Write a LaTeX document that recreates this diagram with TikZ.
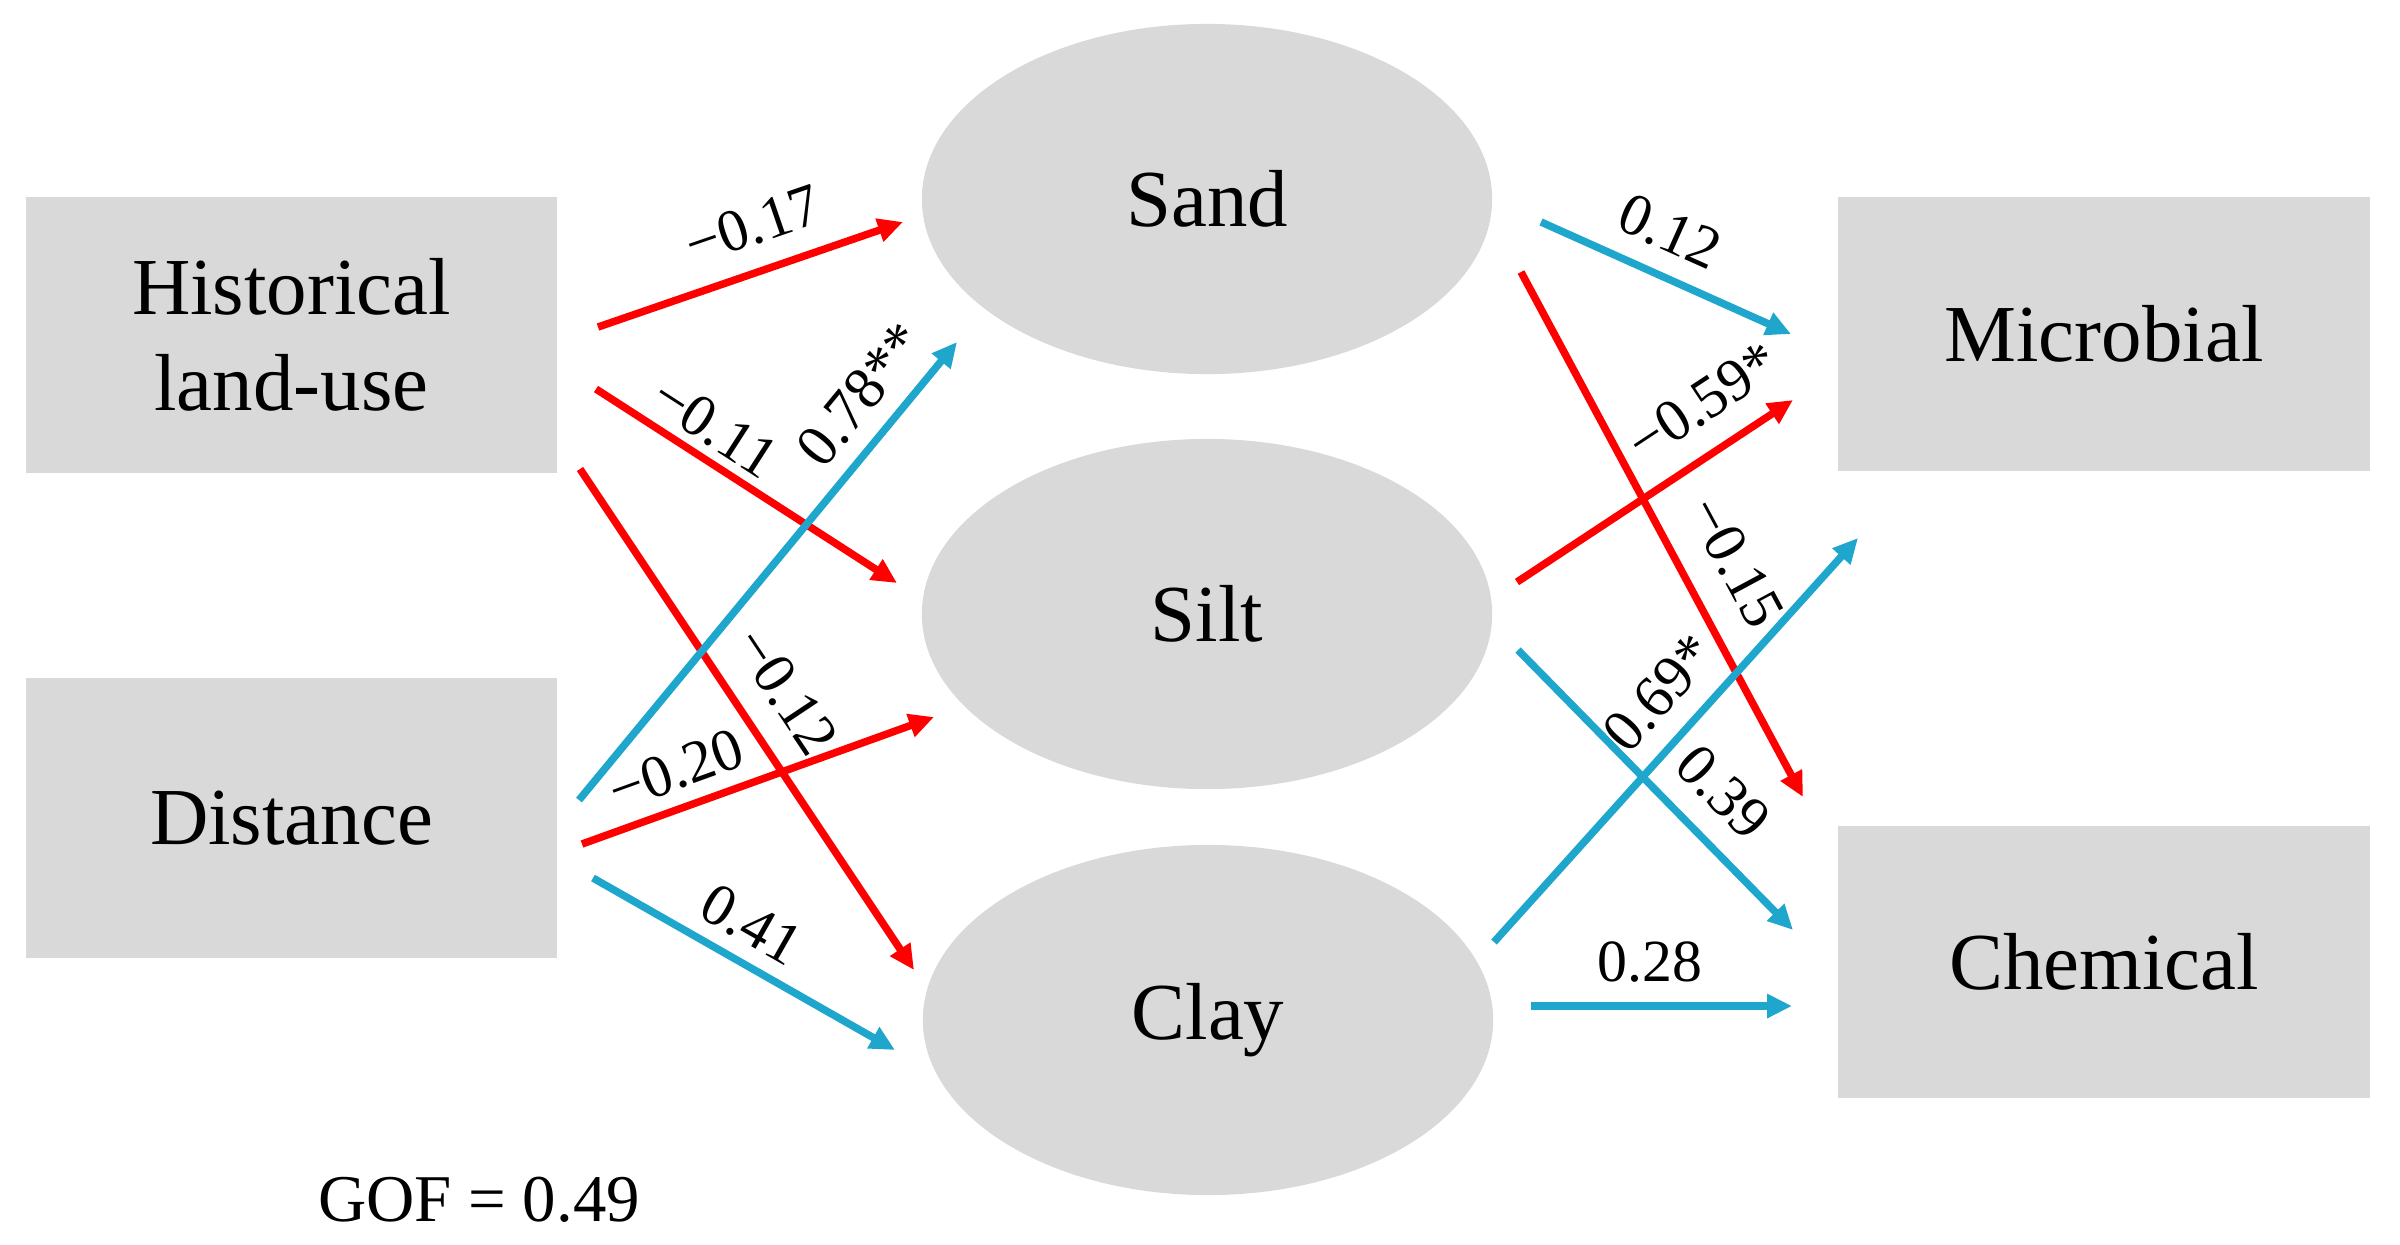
\documentclass[tikz,border=0pt]{standalone}
\usepackage{fontspec}
\setmainfont{Liberation Serif}
\usetikzlibrary{arrows.meta,shapes.geometric}
\definecolor{pgrey}{HTML}{D9D9D9}
\definecolor{pred}{HTML}{FF0000}
\definecolor{pblue}{HTML}{1FA6CC}
\begin{document}
\begin{tikzpicture}[x=0.01cm,y=-0.01cm,
  box/.style={rectangle, fill=pgrey, minimum width=5.3cm, minimum height=2.76cm, inner sep=0pt, align=center, font=\fontsize{23}{27.3}\selectfont},
  oval/.style={ellipse, fill=pgrey, minimum width=5.7cm, minimum height=3.5cm, inner sep=0pt, font=\fontsize{23}{27.3}\selectfont},
  conn/.style={line width=0.075cm, -{Triangle[length=0.25cm,width=0.23cm]}},
  nlink/.style={conn, draw=pred},
  plink/.style={conn, draw=pblue},
  lab/.style={font=\fontsize{17}{20}\selectfont, inner sep=0pt, sloped}
]
\useasboundingbox (0,0) rectangle (2400,1244);

% nodes
\node[box] (hist) at (291.5,335) {Historical\\land-use};
\node[box, minimum height=2.8cm] (dist) at (291.5,818) {Distance};
\node[box, minimum width=5.32cm, minimum height=2.74cm] (micro) at (2104,334) {Microbial};
\node[box, minimum width=5.32cm, minimum height=2.72cm] (chem) at (2104,962) {Chemical};
\node[oval] (sand) at (1207,199) {Sand};
\node[oval] (silt) at (1207,614) {Silt};
\node[oval] (clay) at (1208,1020) {Clay};
\node[font=\fontsize{19}{22}\selectfont, inner sep=0pt] (gof) at (479,1200) {GOF = 0.49};

% connector end points
\coordinate (hsA) at (598,327);   \coordinate (hsB) at (903,222);
\coordinate (hiA) at (596,389);   \coordinate (hiB) at (897,583);
\coordinate (hcA) at (580,469);   \coordinate (hcB) at (914,970);
\coordinate (dsA) at (579,800);   \coordinate (dsB) at (957,342);
\coordinate (diA) at (582,844);   \coordinate (diB) at (934,717);
\coordinate (dcA) at (593,878);   \coordinate (dcB) at (895,1050);
\coordinate (smA) at (1541,222);  \coordinate (smB) at (1791,334);
\coordinate (imA) at (1517,582);  \coordinate (imB) at (1793,400);
\coordinate (scA) at (1521,272);  \coordinate (scB) at (1803,797);
\coordinate (cmA) at (1494,942);  \coordinate (cmB) at (1858,538);
\coordinate (icA) at (1518,650);  \coordinate (icB) at (1793,930);
\coordinate (ccA) at (1531,1006); \coordinate (ccB) at (1792,1006);

% left connectors
\draw[nlink] (hsA) -- node[lab, pos=0.557, above=0.22cm] (l1) {−0.17} (hsB);
\draw[nlink] (hiA) -- node[lab, pos=0.337, above=0.085cm] (l2) {−0.11} (hiB);
\draw[nlink] (hcA) -- node[lab, pos=0.497, above=0.24cm] (l3) {−0.12} (hcB);
\draw[plink] (dsA) -- node[lab, pos=0.828, above=0.17cm] (l4) {0.78**} (dsB);
\draw[nlink] (diA) -- node[lab, pos=0.303, above=0.14cm] (l5) {−0.20} (diB);
\draw[plink] (dcA) -- node[lab, pos=0.464, above=0.14cm] (l6) {0.41} (dcB);

% right connectors
\draw[plink] (smA) -- node[lab, pos=0.443, above=0.20cm] (l7) {0.12} (smB);
\draw[nlink] (imA) -- node[lab, pos=0.769, above=0.24cm] (l8) {−0.59*} (imB);
\draw[nlink] (scA) -- node[lab, pos=0.599, above=0.28cm] (l9) {−0.15} (scB);
\draw[plink] (cmA) -- node[lab, pos=0.544, above=0.20cm] (l10) {0.69*} (cmB);
\draw[plink] (icA) -- node[lab, pos=0.624, above=0.23cm] (l11) {0.39} (icB);
\draw[plink] (ccA) -- node[lab, pos=0.456, above=0.20cm] (l12) {0.28} (ccB);
\end{tikzpicture}
\end{document}
